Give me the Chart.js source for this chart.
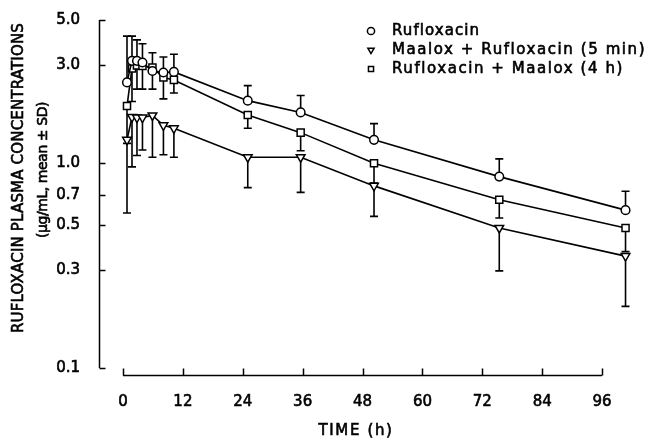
<!DOCTYPE html>
<html>
<head>
<meta charset="utf-8">
<script src="https://cdn.jsdelivr.net/npm/chart.js@4.4.1/dist/chart.umd.min.js"></script>
<style>
html,body{margin:0;padding:0;background:#fff}
#wrap{width:648px;height:440px}
</style>
</head>
<body>
<div id="wrap"><canvas id="c"></canvas></div>
<script>
// values (x in h as plotted against the drawn axis)
const times = [0.8, 1.8, 2.8, 3.9, 5.9, 8.1, 10.2, 25.0, 35.6, 50.3, 75.4, 100.7];
const rufloxacin   = [2.48, 3.16, 3.16, 3.10, 2.82, 2.77, 2.79, 2.02, 1.77, 1.30, 0.86, 0.59];
const rufloxacinHi = [4.17, 4.17, 4.00, 3.83, 3.46, 3.30, 3.40, 2.39, 2.14, 1.56, 1.05, 0.73];
const maalox5      = [1.30, 1.68, 1.67, 1.67, 1.71, 1.53, 1.48, 1.07, 1.07, 0.775, 0.483, 0.352];
const maalox5Lo    = [0.571, 0.96, 1.09, 1.16, 1.07, 1.10, 1.07, 0.76, 0.72, 0.55, 0.298, 0.20];
const maalox4h     = [1.90, 2.90, 3.00, 2.98, 2.93, 2.62, 2.55, 1.72, 1.41, 1.00, 0.663, 0.483];
const maalox4hLo   = [1.25, 2.00, 2.30, 2.30, 2.30, 2.06, 2.20, 1.48, 1.15, 0.80, 0.54, 0.37];

const xTicks = [0, 12, 24, 36, 48, 60, 72, 84, 96];
const yTicks = [0.1, 0.3, 0.5, 0.7, 1.0, 3.0, 5.0];
const seriesNames = ['Rufloxacin', 'Maalox + Rufloxacin (5 min)', 'Rufloxacin + Maalox (4 h)'];
const yTitle = ['RUFLOXACIN PLASMA CONCENTRATIONS', '(\u00b5g/mL, mean \u00b1 SD)'];
const xTitle = 'TIME (h)';

const FONT = '"DejaVu Sans", sans-serif';
const pts = ys => times.map((t, i) => ({ x: t, y: ys[i] }));

function markerDataset(label, ys, ends, style, radius, rot) {
  return {
    label, data: pts(ys), err: ends,
    borderColor: '#000', borderWidth: 1.6,
    pointStyle: style, pointRadius: radius, pointRotation: rot || 0,
    pointBackgroundColor: '#fff', pointBorderColor: '#000', pointBorderWidth: 1.5,
    tension: 0, clip: false
  };
}

// text stretched to the width it has in the original, with a light stroke
function fitText(ctx, s, x, y, width, size) {
  ctx.font = size + 'px ' + FONT;
  ctx.letterSpacing = '0px';
  const w = ctx.measureText(s).width;
  ctx.letterSpacing = ((width - w) / s.length).toFixed(2) + 'px';
  ctx.strokeText(s, x, y);
  ctx.fillText(s, x, y);
}

// vertical SD bars, drawn under the markers
const errorBars = {
  id: 'errorBars',
  beforeDatasetsDraw(chart) {
    const { ctx, scales: { x, y } } = chart;
    ctx.save();
    ctx.strokeStyle = '#000';
    ctx.lineWidth = 1.6;
    chart.data.datasets.forEach(ds => {
      ds.data.forEach((p, i) => {
        const px = x.getPixelForValue(p.x);
        const y0 = y.getPixelForValue(p.y);
        const y1 = y.getPixelForValue(ds.err[i]);
        ctx.beginPath();
        ctx.moveTo(px, y0); ctx.lineTo(px, y1);
        ctx.moveTo(px - 4, y1); ctx.lineTo(px + 4, y1);
        ctx.stroke();
      });
    });
    ctx.restore();
  }
};

// axis lines with inward ticks, titles and legend
const frame = {
  id: 'frame',
  afterDraw(chart) {
    const { ctx, scales: { x, y } } = chart;
    const ax = 99.5, ay = chart.chartArea.bottom + 0.5;
    ctx.save();
    ctx.strokeStyle = '#000';
    ctx.lineWidth = 1.5;
    ctx.beginPath();
    ctx.moveTo(ax, y.getPixelForValue(yTicks[yTicks.length - 1]));
    ctx.lineTo(ax, y.getPixelForValue(yTicks[0]));
    yTicks.forEach(v => {
      const py = Math.round(y.getPixelForValue(v)) + 0.5;
      ctx.moveTo(ax, py); ctx.lineTo(ax + 6, py);
    });
    ctx.moveTo(x.getPixelForValue(xTicks[0]), ay);
    ctx.lineTo(x.getPixelForValue(xTicks[xTicks.length - 1]), ay);
    xTicks.forEach(v => {
      const px = Math.round(x.getPixelForValue(v)) + 0.5;
      ctx.moveTo(px, ay); ctx.lineTo(px, ay - 7);
    });
    ctx.stroke();

    ctx.fillStyle = '#000';
    ctx.lineWidth = 0.6;
    ctx.textAlign = 'center';
    ctx.textBaseline = 'middle';
    fitText(ctx, xTitle, 356, 431, 75, 15);

    ctx.save();
    ctx.translate(19, 178);
    ctx.rotate(-Math.PI / 2);
    fitText(ctx, yTitle[0], 0, 0, 310, 15);
    ctx.restore();
    ctx.save();
    ctx.translate(43, 170);
    ctx.rotate(-Math.PI / 2);
    fitText(ctx, yTitle[1], 0, 0, 136, 14);
    ctx.restore();

    // legend
    const legendWidths = [88, 254, 232];
    ctx.textAlign = 'left';
    chart.data.datasets.forEach((ds, i) => {
      const ly = 31 + 19 * i;
      ctx.fillStyle = '#fff';
      ctx.strokeStyle = '#000';
      ctx.lineWidth = 1.5;
      Chart.helpers.drawPoint(ctx, {
        pointStyle: ds.pointStyle, radius: 3.6, rotation: ds.pointRotation, borderWidth: 1.5
      }, 371, ly);
      ctx.fillStyle = '#000';
      ctx.lineWidth = 0.6;
      fitText(ctx, seriesNames[i], 392, ly, legendWidths[i], 15);
    });
    ctx.restore();
  }
};

new Chart(document.getElementById('c'), {
  type: 'line',
  data: {
    datasets: [
      markerDataset(seriesNames[0], rufloxacin, rufloxacinHi, 'circle', 4.3),
      markerDataset(seriesNames[1], maalox5, maalox5Lo, 'triangle', 5, 180),
      markerDataset(seriesNames[2], maalox4h, maalox4hLo, 'rect', 5)
    ]
  },
  options: {
    responsive: true, maintainAspectRatio: false, animation: false,
    devicePixelRatio: 1,
    layout: { padding: { top: 17, right: 8, left: 0, bottom: 0 } },
    plugins: { legend: { display: false }, tooltip: { enabled: false } },
    scales: {
      x: {
        type: 'linear', min: -4.81, max: 103.6,
        afterBuildTicks: s => { s.ticks = xTicks.map(v => ({ value: v })); },
        afterFit: s => { s.height = 65; },
        grid: { display: false }, border: { display: false },
        ticks: { color: '#000', padding: 10, maxRotation: 0, font: { family: FONT, size: 15 },
          textStrokeColor: '#000', textStrokeWidth: 0.6 }
      },
      y: {
        type: 'logarithmic', min: 0.0925, max: 5,
        afterBuildTicks: s => { s.ticks = yTicks.map(v => ({ value: v })); },
        afterFit: s => { s.width = 99; },
        grid: { display: false }, border: { display: false },
        ticks: { color: '#000', padding: 11, font: { family: FONT, size: 15 },
          textStrokeColor: '#000', textStrokeWidth: 0.6,
          callback: v => Number(v).toFixed(1) }
      }
    }
  },
  plugins: [errorBars, frame]
});
</script>
</body>
</html>
